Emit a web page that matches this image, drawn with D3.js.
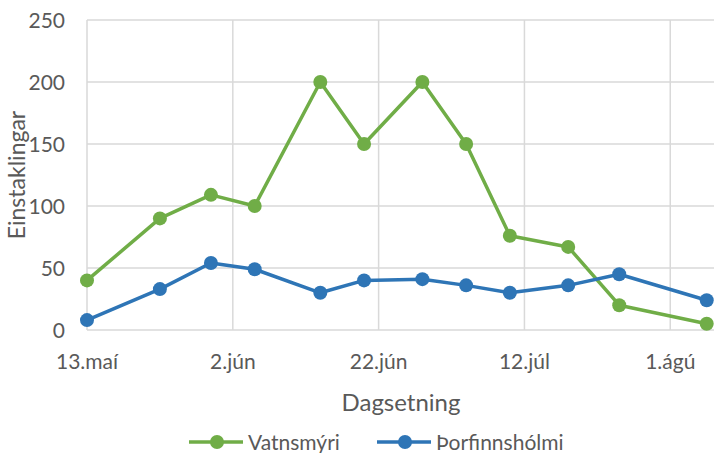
<!DOCTYPE html>
<html>
<head>
<meta charset="utf-8">
<script src="https://cdn.jsdelivr.net/npm/d3@7"></script>
<style>
  body { margin: 0; background: #fff; }
  text { font-family: Lato, "Open Sans", sans-serif; fill: #595959; }
</style>
</head>
<body>
<div id="chart"></div>
<script>
// survey dates and counts per site
const dates = ["2019-05-13", "2019-05-23", "2019-05-30", "2019-06-05", "2019-06-14", "2019-06-20",
  "2019-06-28", "2019-07-04", "2019-07-10", "2019-07-18", "2019-07-25", "2019-08-06"];
const vatnsmyri = [40, 90, 109, 100, 200, 150, 200, 150, 76, 67, 20, 5];
const thorfinnsholmi = [8, 33, 54, 49, 30, 40, 41, 36, 30, 36, 45, 24];
const xTicks = ["2019-05-13", "2019-06-02", "2019-06-22", "2019-07-12", "2019-08-01"];
const monthNames = ["jan", "feb", "mar", "apr", "maí", "jún", "júl", "ágú", "sep", "okt", "nóv", "des"];
const yTicks = [0, 50, 100, 150, 200, 250];

const width = 714, height = 453;
const margin = {top: 20, right: 0, bottom: 123, left: 87};

const parse = d3.timeParse("%Y-%m-%d");
const series = [
  {name: "Vatnsmýri", color: "#70AD47", values: vatnsmyri},
  {name: "Þorfinnshólmi", color: "#2E75B6", values: thorfinnsholmi}
];

const svg = d3.select("#chart").append("svg")
  .attr("width", width).attr("height", height);

const x = d3.scaleTime()
  .domain([parse("2019-05-13"), parse("2019-08-07")])
  .range([margin.left, width - margin.right]);
const y = d3.scaleLinear()
  .domain([0, 250])
  .range([height - margin.bottom, margin.top]);

// grid
svg.append("g").selectAll("line").data(yTicks).join("line")
  .attr("x1", margin.left).attr("x2", width - margin.right)
  .attr("y1", d => y(d)).attr("y2", d => y(d))
  .attr("stroke", "#d9d9d9").attr("stroke-width", 1.5);
svg.append("g").selectAll("line").data(xTicks).join("line")
  .attr("x1", d => x(parse(d))).attr("x2", d => x(parse(d)))
  .attr("y1", y(0)).attr("y2", y(250))
  .attr("stroke", "#d9d9d9").attr("stroke-width", 1.5);

// tick labels
svg.append("g").selectAll("text").data(yTicks).join("text")
  .attr("x", margin.left - 22).attr("y", d => y(d))
  .attr("dy", "0.36em").attr("text-anchor", "end")
  .attr("font-size", 21).text(d => d);
svg.append("g").selectAll("text").data(xTicks).join("text")
  .attr("x", d => x(parse(d))).attr("y", y(0) + 39)
  .attr("text-anchor", "middle").attr("font-size", 21)
  .text(d => { const t = parse(d); return t.getDate() + "." + monthNames[t.getMonth()]; });

// axis titles
svg.append("text")
  .attr("transform", `translate(25,${(y(0) + y(250)) / 2}) rotate(-90)`)
  .attr("text-anchor", "middle").attr("font-size", 23).text("Einstaklingar");
svg.append("text")
  .attr("x", 401).attr("y", 411)
  .attr("text-anchor", "middle").attr("font-size", 24).text("Dagsetning");

// lines + markers
const line = d3.line().x((d, i) => x(parse(dates[i]))).y(d => y(d));
series.forEach(s => {
  svg.append("path").datum(s.values)
    .attr("d", line).attr("fill", "none")
    .attr("stroke", s.color).attr("stroke-width", 3.5)
    .attr("stroke-linejoin", "round");
  svg.append("g").selectAll("circle").data(s.values).join("circle")
    .attr("cx", (d, i) => x(parse(dates[i]))).attr("cy", d => y(d))
    .attr("r", 7).attr("fill", s.color);
});

// legend
const legendX = [189, 377];
series.forEach((s, i) => {
  const g = svg.append("g").attr("transform", `translate(${legendX[i]},442)`);
  g.append("line").attr("x1", 0).attr("x2", 54)
    .attr("stroke", s.color).attr("stroke-width", 3.5);
  g.append("circle").attr("cx", 28).attr("r", 7).attr("fill", s.color);
  g.append("text").attr("x", 59).attr("dy", "0.36em")
    .attr("font-size", 21).text(s.name);
});
</script>
</body>
</html>
